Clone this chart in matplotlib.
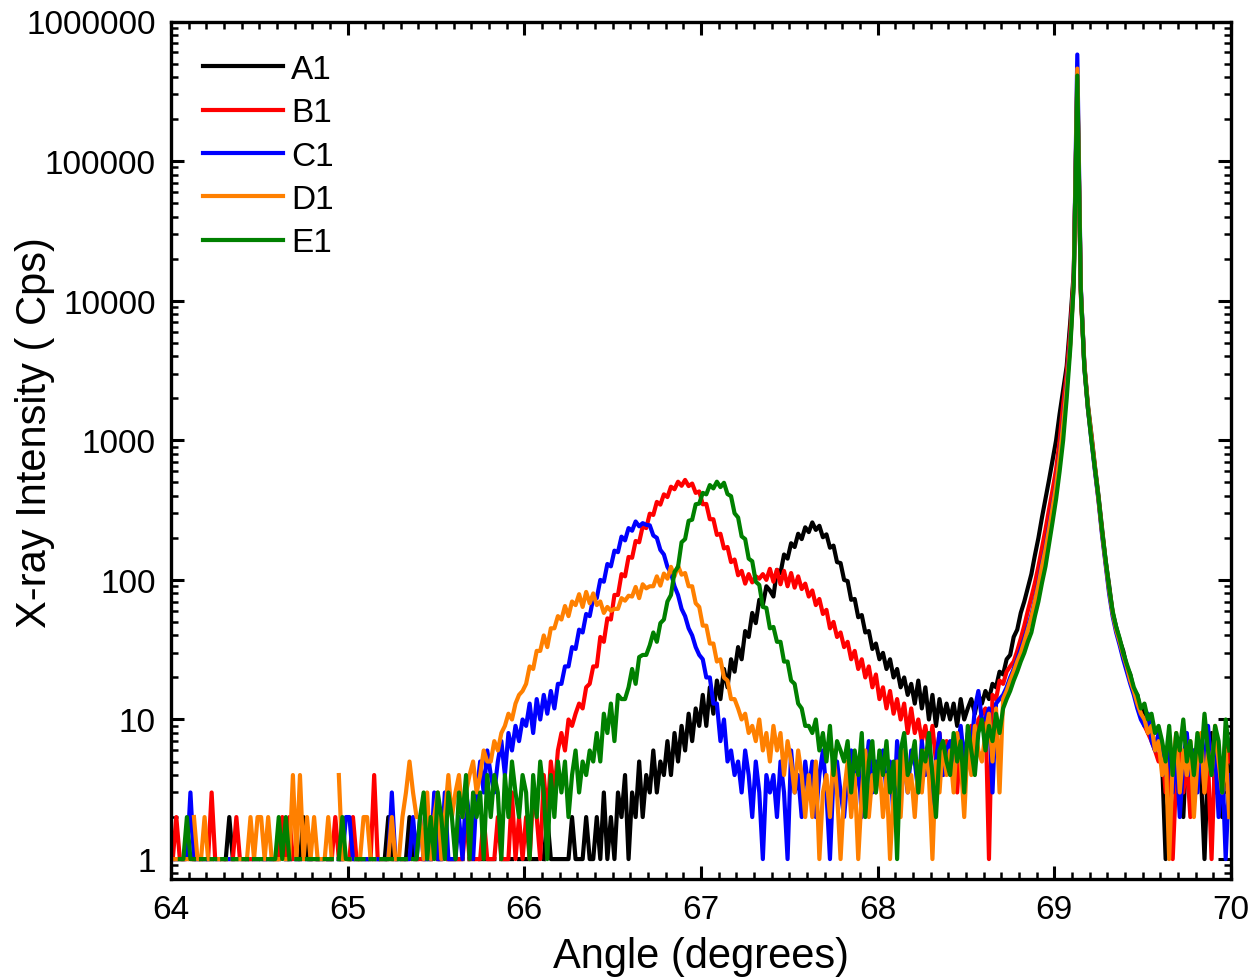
import numpy as np
import matplotlib
matplotlib.use("Agg")
import matplotlib.pyplot as plt
from matplotlib.ticker import LogLocator, MultipleLocator, FixedLocator, FixedFormatter, NullFormatter

plt.rcParams['font.family'] = ['Liberation Sans', 'DejaVu Sans']

# ---- data: counts sampled every 0.02 deg from 64.01 to 69.99 (0 = no counts) ----
angle_start = 64.01
angle_step = 0.02

A1 = [0,1,1,1,0,0,1,1,1,0,  1,1,0,0,1,1,2,1,1,0,  0,1,1,0,0,1,1,0,1,1,
      1,0,1,1,0,1,1,2,1,1,  0,1,1,0,1,1,0,1,1,0,  1,1,0,1,1,1,0,1,1,0,
      1,2,1,1,0,1,1,2,1,1,  0,1,1,1,0,1,1,0,1,1,  1,1,1,0,1,1,0,1,1,1,
      1,1,0,1,1,1,1,0,1,1,  1,1,1,1,0,1,2,1,1,1,  1,1,1,2,1,1,1,2,1,1,
      2,1,3,1,2,1,3,2,4,1,  3,2,5,2,4,3,6,3,5,4,  7,4,8,5,9,6,11,7,12,9,
      15,9,17,11,19,14,23,17,27,22,  33,27,43,39,58,49,72,66,90,84,
      76,118,112,152,142,183,172,214,196,238,  220,258,228,244,202,212,170,176,134,132,
      100,98,72,73,54,56,42,43,32,35,  27,30,23,27,20,23,17,20,15,18,
      13,19,12,17,10,15,9,14,10,13,  10,13,9,14,10,12,14,11,15,13,
      16,14,18,17,22,21,27,29,39,44,  58,70,88,110,150,200,280,380,520,720,
      1000,1550,2300,3400,7000,16000,350000,12000,3500,1800,
      1100,650,400,235,138,92,58,46,37,31,  24,21,16,15,11,12,8,9,6,7,
      5,1,4,6,3,5,2,7,4,3,  6,4,1,5,8,3,5,2,6,4]

B1 = [1,2,1,1,0,1,1,0,1,1,  1,3,1,1,0,1,1,1,2,1,  1,0,1,1,1,0,1,1,0,1,
      1,2,1,2,1,0,1,1,0,1,  1,1,0,1,1,1,2,1,1,0,  1,2,1,1,0,1,1,4,1,1,
      0,1,1,1,0,1,1,1,0,1,  1,1,0,1,2,1,1,0,1,1,  1,1,1,2,1,0,1,1,2,1,
      1,1,2,1,1,1,3,1,2,1,  2,1,3,2,1,4,2,5,3,6,  8,6,10,9,11,13,12,17,18,24,
      24,39,36,53,52,78,78,110,106,146,  144,190,186,242,235,298,292,362,346,410,
      392,465,446,505,472,520,470,490,420,430,  348,350,272,272,210,214,168,172,134,140,
      108,116,94,110,96,106,102,110,100,120,  97,118,93,116,90,112,88,106,86,94,
      76,84,66,73,57,61,45,50,39,42,  33,36,27,31,23,27,20,24,17,21,
      14,17,12,16,11,14,10,13,8,12,  8,10,7,9,6,9,5,8,4,7,
      5,7,3,8,4,6,9,5,10,11,  12,1,15,14,19,18,22,24,26,31,
      38,47,60,75,95,125,170,230,320,440,
      620,1000,1800,3000,6000,15000,380000,11000,3400,1700,
      1050,620,380,220,135,85,58,44,36,28,  23,19,16,13,11,9,8,7,6,5,
      6,3,5,1,4,7,3,5,2,6,  4,7,3,5,1,6,4,3,8,5]

C1 = [1,1,0,1,1,3,1,1,0,1,  1,0,1,1,0,1,1,1,0,1,  1,1,0,1,1,0,1,1,1,0,
      1,0,1,1,0,1,1,0,1,1,  0,1,1,0,1,1,0,1,1,2,  2,1,1,0,1,1,1,0,1,1,
      1,1,3,1,1,0,1,1,2,1,  2,1,1,1,3,1,1,3,1,1,  1,2,1,3,2,1,3,5,3,6,
      4,3,5,7,4,8,6,9,7,10,  9,13,8,14,10,15,11,16,12,18,
      18,24,24,33,32,44,42,57,55,74,  74,100,97,130,125,162,158,204,192,235,
      225,262,242,255,248,246,208,200,164,152,  124,112,90,78,62,55,45,40,33,29,
      27,20,20,13,13,7,10,5,6,4,  5,3,6,4,2,5,3,1,4,3,  4,2,5,3,1,6,3,4,2,5,
      3,5,2,4,6,3,1,4,5,3,  2,4,6,3,5,2,4,7,3,5,  4,6,3,5,2,7,4,5,3,6,
      5,3,7,4,6,2,5,8,4,6,  7,4,6,9,5,8,6,12,16,10,
      10,12,3,13,14,15,17,20,23,27,  32,38,46,56,72,95,130,170,240,340,
      480,780,1350,2500,5000,14000,580000,12500,3300,1700,
      1000,600,370,210,130,80,55,42,34,27,  22,18,15,12,10,9,11,7,6,8,
      5,4,7,3,6,2,5,8,4,6,  3,7,5,9,4,6,2,5,1,4]

D1 = [1,1,0,1,1,0,2,1,1,2,  1,1,0,1,1,1,0,1,1,1,  1,1,2,1,2,2,1,2,1,1,
      1,0,1,1,4,1,4,1,2,1,  2,1,1,1,2,1,0,4,1,1,  1,0,1,1,2,2,1,1,0,1,
      1,1,2,1,1,2,3,5,3,2,  2,1,3,1,2,3,1,2,4,2,  3,4,2,3,4,5,3,4,6,5,
      5,7,6,8,9,11,10,13,15,16,  18,24,23,31,31,40,33,45,45,55,
      52,65,55,70,66,79,64,82,68,80,  66,70,58,64,60,62,62,74,71,77,
      76,89,74,93,87,90,90,106,91,111,  102,124,106,126,109,112,90,90,68,64,
      47,47,35,35,26,27,20,19,14,14,  12,10,11,8,9,7,10,6,8,5,
      9,6,8,4,7,5,3,6,4,2,  4,2,5,1,3,4,2,6,3,1,  3,5,2,4,1,3,6,2,4,3,
      5,2,4,1,3,5,2,6,3,4,  2,5,3,6,4,1,5,3,7,4,  6,3,8,5,2,7,4,9,6,5,
      8,11,5,12,3,14,16,19,22,26,  30,36,44,54,70,92,125,165,230,330,
      470,760,1300,2400,4800,14000,460000,12000,3400,1750,
      1050,620,380,220,135,85,58,44,36,29,  24,19,16,13,11,10,8,9,6,7,
      4,6,1,5,8,3,6,4,7,2,  5,8,3,6,4,9,5,3,6,2]

E1 = [1,0,1,1,2,1,1,0,1,1,  0,1,1,0,1,1,0,1,1,0,  1,1,0,1,1,1,0,1,1,1,
      2,1,2,1,0,1,1,0,1,1,  1,1,0,1,1,1,0,1,2,1,  1,0,1,1,1,0,1,1,0,1,
      1,1,1,0,1,1,1,0,1,1,  2,3,1,2,1,3,2,1,3,2,  1,3,2,4,1,3,2,3,1,4,
      2,4,3,1,4,2,5,3,2,4,  3,1,4,2,5,3,1,4,2,5,  3,5,2,4,6,3,5,4,6,5,
      8,5,11,8,13,7,15,14,14,17,  23,18,28,29,29,34,42,36,49,52,
      70,78,114,124,186,196,265,270,348,352,  420,410,478,452,505,462,496,412,398,300,
      280,205,196,142,136,97,92,64,63,45,  46,36,36,26,26,19,18,13,12,9,
      9,8,10,6,8,5,9,4,7,6,  5,7,3,6,4,8,2,5,7,3,  6,4,7,3,5,1,6,8,4,5,
      7,3,6,5,8,4,2,6,7,5,  4,8,5,7,3,9,6,4,8,10,
      6,9,7,11,8,12,14,16,19,22,  26,30,36,42,55,70,95,125,180,260,
      380,600,1000,2000,4500,13000,410000,11500,3300,1700,
      1000,620,390,225,140,88,60,46,38,30,  25,21,17,15,12,13,10,11,8,9,
      7,5,9,4,8,6,10,5,7,4,  8,5,11,6,4,9,7,3,10,6]

series_names = ["A1", "B1", "C1", "D1", "E1"]
series_values = [A1, B1, C1, D1, E1]
series_colors = ["#000000", "#FF0000", "#0000FF", "#FF8000", "#008000"]

y_tick_values = [1, 10, 100, 1000, 10000, 100000, 1000000]
y_tick_labels = ["1", "10", "100", "1000", "10000", "100000", "1000000"]
x_tick_values = [64, 65, 66, 67, 68, 69, 70]

# ---- figure ----
W, H = 1260, 978
fig = plt.figure(figsize=(W / 100, H / 100), dpi=100)
ax = fig.add_axes([171 / W, 1 - 880 / H, (1231 - 171) / W, (880 - 22.5) / H])

for name, vals, col in zip(series_names, series_values, series_colors):
    y = np.array(vals, dtype=float)
    y[y <= 0] = np.nan
    x = angle_start + angle_step * np.arange(len(y))
    ax.plot(x, y, color=col, lw=3.0, label=name)

ax.set_yscale('log')
ax.set_xlim(64, 70)
ax.set_ylim(0.72, 1e6)

ax.xaxis.set_major_locator(FixedLocator(x_tick_values))
ax.xaxis.set_minor_locator(MultipleLocator(0.1))
ax.yaxis.set_major_locator(FixedLocator(y_tick_values))
ax.yaxis.set_major_formatter(FixedFormatter(y_tick_labels))
ax.yaxis.set_minor_locator(LogLocator(base=10, subs=np.arange(2, 10), numticks=20))
ax.yaxis.set_minor_formatter(NullFormatter())

ax.tick_params(which='both', direction='in', top=True, right=True,
               labelsize=24, pad=11)
ax.tick_params(which='major', length=9.5, width=2.2)
ax.tick_params(which='minor', length=5, width=1.8)
for sp in ax.spines.values():
    sp.set_linewidth(2.4)

ax.set_xlabel("Angle (degrees)", fontsize=30)
ax.set_ylabel("X-ray Intensity ( Cps)", fontsize=30)
ax.xaxis.set_label_coords(0.5, -0.067)
ax.yaxis.set_label_coords(-0.109, 0.522)

leg = ax.legend(loc='upper left', bbox_to_anchor=(0.030, 0.962), frameon=False,
                fontsize=24, handlelength=2.4, handletextpad=0.25,
                labelspacing=0.37, borderpad=0, borderaxespad=0)
for h in leg.get_lines():
    h.set_linewidth(3)

fig.savefig("out.png", dpi=100)
